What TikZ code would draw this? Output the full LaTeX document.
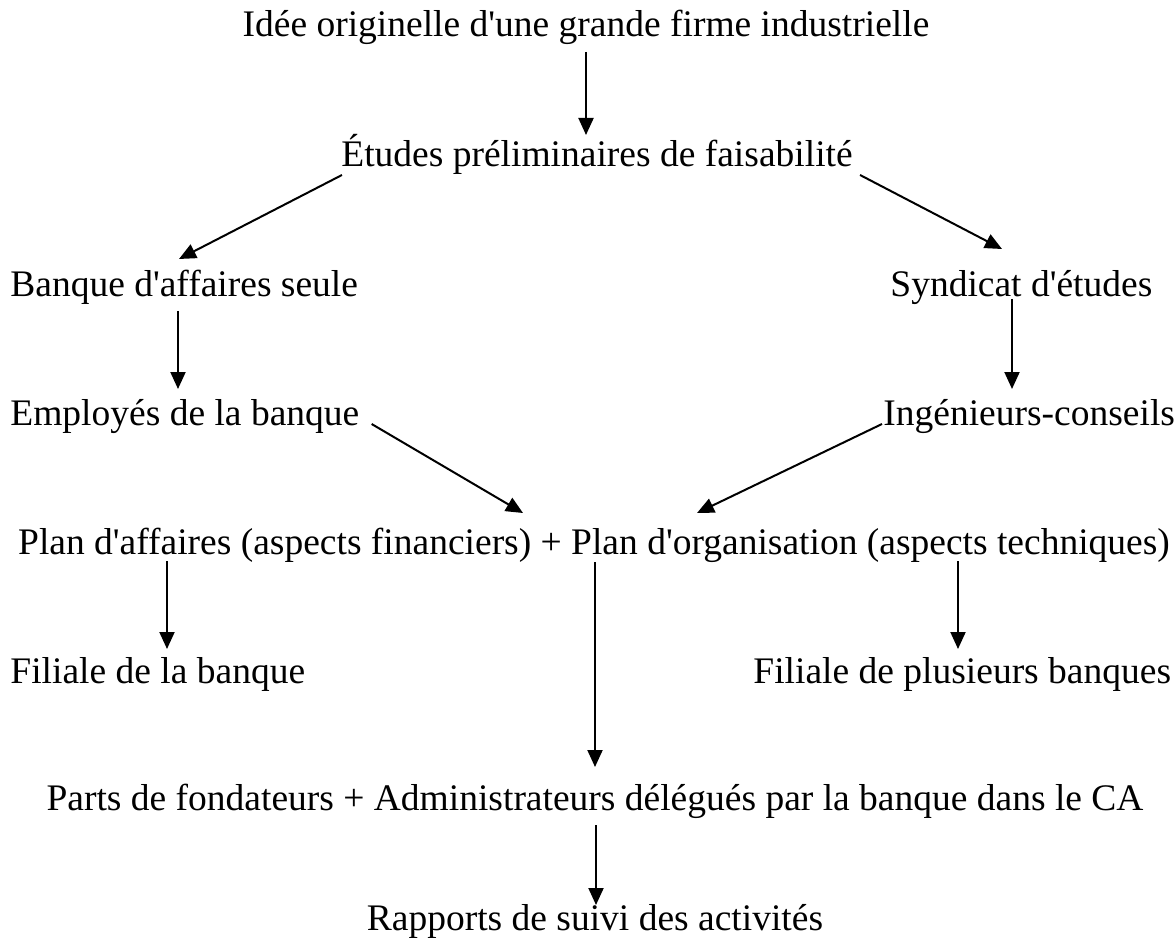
\documentclass[tikz,border=0pt]{standalone}
\usepackage{fontspec}
\setmainfont{Liberation Serif}[Ligatures=TeXOff]
\usetikzlibrary{arrows.meta}

\begin{document}
\begin{tikzpicture}[x=0.5pt,y=-0.5pt,
    every node/.style={inner sep=0pt,font=\fontsize{18.75}{22}\selectfont},
    fleche/.style={-{Triangle[length=8.5pt,width=7.5pt]},line width=1pt}]

\useasboundingbox[fill=white] (0,0) rectangle (1176,946);

% les etapes
\node[anchor=base] (idee) at (586,37) {Idée originelle d'une grande firme industrielle};
\node[anchor=base] (etudes) at (597,167) {Études préliminaires de faisabilité};
\node[anchor=base west] (banque) at (10,297) {Banque d'affaires seule};
\node[anchor=base west] (syndicat) at (890,297) {Syndicat d'études};
\node[anchor=base west] (employes) at (10,425) {Employés de la banque};
\node[anchor=base west] (ingenieurs) at (883,425) {Ingénieurs-conseils};
\node[anchor=base] (plan) at (594,554) {Plan d'affaires (aspects financiers) + Plan d'organisation (aspects techniques)};
\node[anchor=base west] (filbanque) at (10,683) {Filiale de la banque};
\node[anchor=base west] (filplus) at (753,683) {Filiale de plusieurs banques};
\node[anchor=base] (parts) at (595,810) {Parts de fondateurs + Administrateurs délégués par la banque dans le CA};
\node[anchor=base] (rapports) at (595,930) {Rapports de suivi des activités};

% les fleches
\draw[fleche] ([shift={(0,15)}]idee.base) -- ([shift={(-11,-32)}]etudes.base);
\draw[fleche] ([shift={(1,8)}]etudes.base west) -- ([shift={(169,-38)}]banque.base west);
\draw[fleche] ([shift={(7,8)}]etudes.base east) -- ([shift={(112,-48)}]syndicat.base west);
\draw[fleche] ([shift={(168,14)}]banque.base west) -- ([shift={(168,-36)}]employes.base west);
\draw[fleche] ([shift={(122,2)}]syndicat.base west) -- ([shift={(129,-36)}]ingenieurs.base west);
\draw[fleche] ([shift={(12,-1)}]employes.base east) -- ([shift={(-71,-41)}]plan.base);
\draw[fleche] ([shift={(-1,-1)}]ingenieurs.base west) -- ([shift={(103,-41)}]plan.base);
\draw[fleche] ([shift={(-427,7)}]plan.base) -- ([shift={(157,-34)}]filbanque.base west);
\draw[fleche] ([shift={(1,8)}]plan.base) -- ([shift={(0,-43)}]parts.base);
\draw[fleche] ([shift={(364,7)}]plan.base) -- ([shift={(205,-34)}]filplus.base west);
\draw[fleche] ([shift={(1,15)}]parts.base) -- ([shift={(1,-25)}]rapports.base);

\end{tikzpicture}
\end{document}
